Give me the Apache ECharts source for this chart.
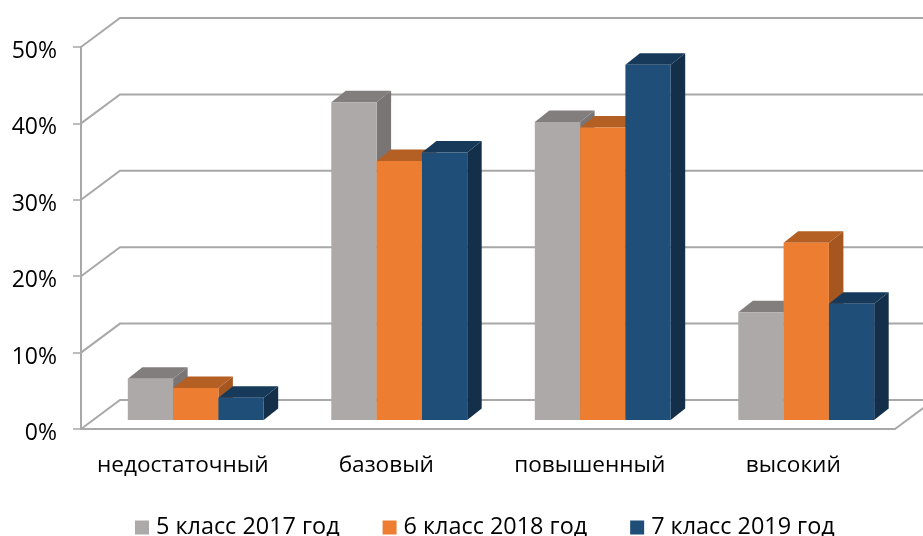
<!DOCTYPE html>
<html>
<head>
<meta charset="utf-8">
<style>
  html, body { margin: 0; padding: 0; background: #fff; }
  #chart { width: 923px; height: 536px; }
</style>
</head>
<body>
<div id="chart"></div>
<script src="https://cdn.jsdelivr.net/npm/echarts@6/dist/echarts.min.js"></script>
<script>
  const categories = ["недостаточный", "базовый", "повышенный", "высокий"];
  const grade5 = [5.4, 41.6, 39.0, 14.1];
  const grade6 = [4.2, 33.9, 38.3, 23.2];
  const grade7 = [2.9, 35.0, 46.5, 15.2];
  const yTicks = [0, 10, 20, 30, 40, 50];

  // front, top, side
  const greyShades = ["#ada9a8", "#827e7d", "#797574"];
  const orangeShades = ["#ed7d31", "#b45f23", "#a65720"];
  const blueShades = ["#1f4e79", "#173a5b", "#142f4a"];

  const lineColor = "#a8a8a8";
  const wallDx = 39, wallDy = -29;   // depth of the whole 3d box
  const planeDx = 13, planeDy = -9;  // where the bars stand on the floor
  const barDx = 14.5, barDy = -11.5; // depth of one bar
  const barShare = 0.2226;           // bar width / category width

  const chart = echarts.init(document.getElementById("chart"));

  // walls: diagonal from the front axis, then the line along the back wall
  function renderWallLine(params, api) {
    const sys = params.coordSys;
    const y = api.coord([0, api.value(0)])[1];
    const left = sys.x;
    const right = sys.x + sys.width;
    const children = [{
      type: "polyline",
      shape: { points: [[left, y], [left + wallDx, y + wallDy], [right + wallDx, y + wallDy]] },
      style: { stroke: lineColor, lineWidth: 2, fill: null },
    }];
    if (api.value(0) === 0) {
      children.push({
        type: "line",
        shape: { x1: right, y1: y, x2: right + wallDx, y2: y + wallDy },
        style: { stroke: lineColor, lineWidth: 2 },
      });
    }
    return { type: "group", children };
  }

  function barRenderer(slot, shades) {
    return function (params, api) {
      const p = api.coord([api.value(0), api.value(1)]);
      const base = api.coord([api.value(0), 0]);
      const w = api.size([1, 0])[0] * barShare;
      const x0 = p[0] + planeDx + (slot - 1.5) * w;
      const x1 = x0 + w;
      const top = p[1] + planeDy;
      const bottom = base[1] + planeDy;
      return {
        type: "group",
        children: [
          {
            type: "polygon",
            shape: { points: [[x1, top], [x1 + barDx, top + barDy], [x1 + barDx, bottom + barDy], [x1, bottom]] },
            style: { fill: shades[2] },
          },
          {
            type: "polygon",
            shape: { points: [[x0, top], [x0 + barDx, top + barDy], [x1 + barDx, top + barDy], [x1, top]] },
            style: { fill: shades[1] },
          },
          {
            type: "rect",
            shape: { x: x0, y: top, width: w, height: bottom - top },
            style: { fill: shades[0] },
          },
        ],
      };
    };
  }

  function barSeries(name, values, slot, shades) {
    return {
      name: name,
      type: "custom",
      clip: false,
      z: 3,
      itemStyle: { color: shades[0] },
      encode: { x: 0, y: 1 },
      data: values.map((v, i) => [i, v]),
      renderItem: barRenderer(slot, shades),
    };
  }

  const labelFont = "Open Sans";

  chart.setOption({
    animation: false,
    backgroundColor: "#fff",
    grid: { left: 81, right: 28, top: 47, bottom: 107 },
    legend: {
      left: 130,
      top: 511,
      itemWidth: 14,
      itemHeight: 14,
      itemGap: 43,
      icon: "rect",
      textStyle: { fontFamily: labelFont, fontSize: 23.4, color: "#000", padding: [0, 0, 0, 2] },
      data: ["5 класс 2017 год", "6 класс 2018 год", "7 класс 2019 год"],
    },
    xAxis: {
      type: "category",
      data: categories,
      axisLine: { lineStyle: { color: lineColor, width: 2 } },
      axisTick: { length: 9, lineStyle: { color: lineColor, width: 1.5 } },
      axisLabel: { interval: 0, fontFamily: labelFont, fontSize: 22.6, color: "#000", margin: 25 },
    },
    yAxis: {
      type: "value",
      min: 0,
      max: 50,
      interval: 10,
      axisLine: { show: true, lineStyle: { color: lineColor, width: 2 } },
      axisTick: { show: true, length: 8, lineStyle: { color: lineColor, width: 1.5 } },
      splitLine: { show: false },
      axisLabel: {
        margin: 24,
        formatter: "{v|{value}%}",
        rich: {
          v: { fontFamily: labelFont, fontSize: 23, color: "#000", padding: [9, 0, 0, 0] },
        },
      },
    },
    series: [
      {
        type: "custom",
        clip: false,
        silent: true,
        z: 1,
        encode: { y: 0 },
        data: yTicks.map((v) => [v]),
        renderItem: renderWallLine,
      },
      barSeries("5 класс 2017 год", grade5, 0, greyShades),
      barSeries("6 класс 2018 год", grade6, 1, orangeShades),
      barSeries("7 класс 2019 год", grade7, 2, blueShades),
    ],
  });
</script>
</body>
</html>
